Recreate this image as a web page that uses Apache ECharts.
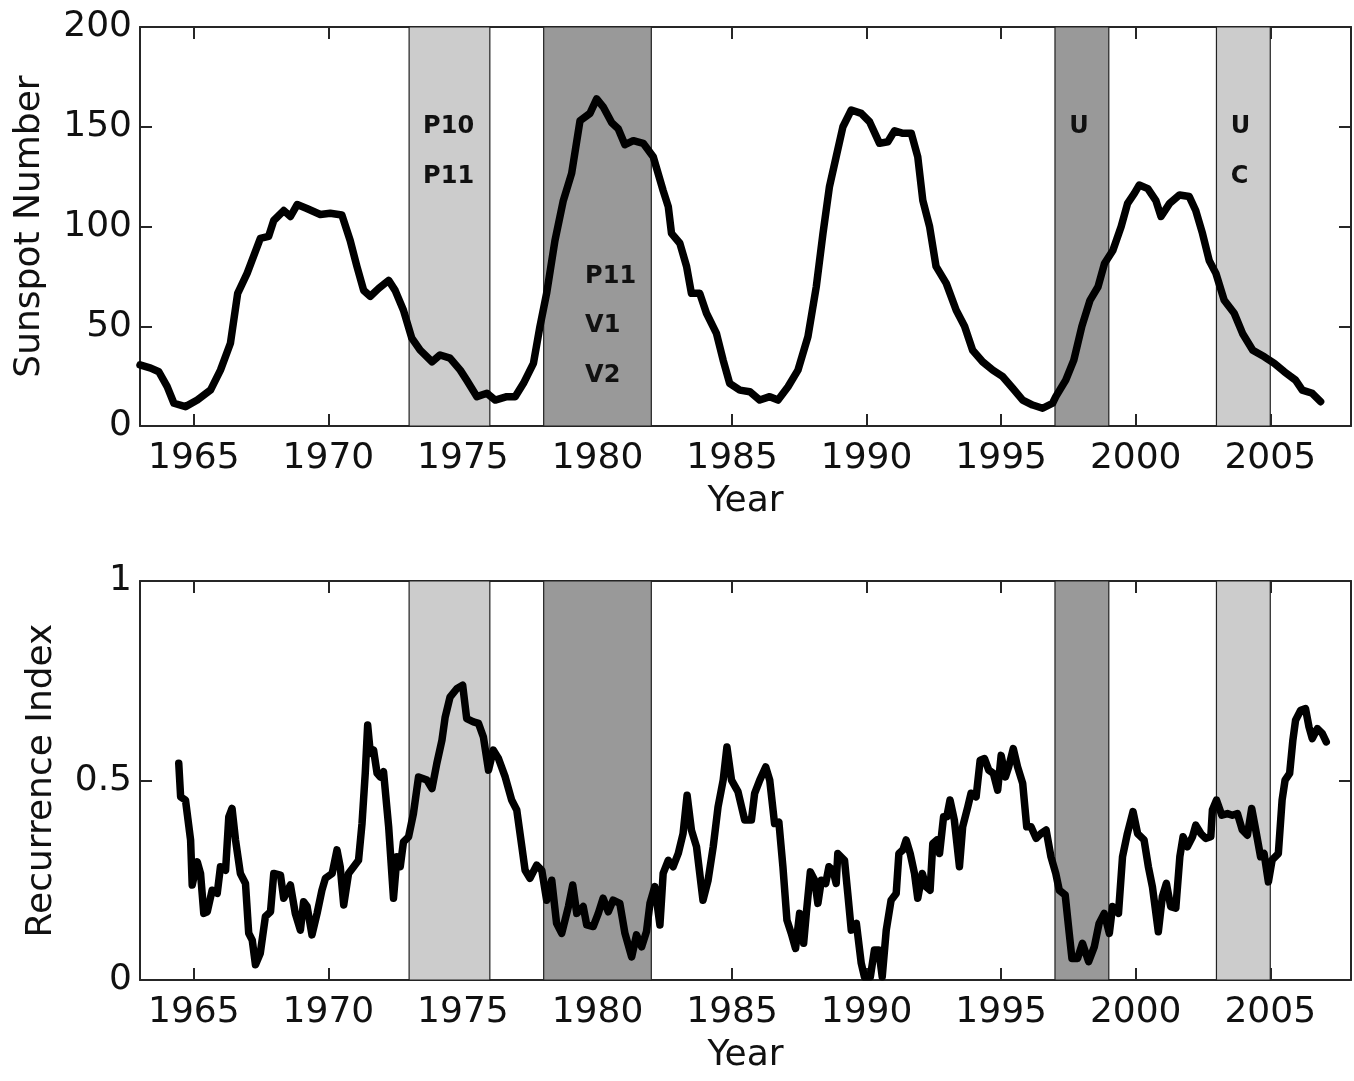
<!DOCTYPE html>
<html>
<head>
<meta charset="utf-8">
<script src="https://cdn.jsdelivr.net/npm/echarts@6/dist/echarts.min.js"></script>
<style>
html,body{margin:0;padding:0;background:#fff;}
#chart{width:1354px;height:1081px;}
</style>
</head>
<body>
<div id="chart"></div>
<script>
// ---------- data ----------
const sunspotYears = [1963.00,1963.40,1963.70,1964.01,1964.26,1964.69,1965.13,1965.62,1965.99,1966.36,1966.63,1966.98,1967.47,1967.78,1967.97,1968.34,1968.59,1968.84,1969.20,1969.70,1970.07,1970.50,1970.81,1971.06,1971.31,1971.56,1971.87,1972.24,1972.48,1972.79,1973.10,1973.41,1973.85,1974.15,1974.52,1974.90,1975.14,1975.52,1975.89,1976.20,1976.63,1976.94,1977.25,1977.62,1977.86,1978.11,1978.42,1978.73,1979.04,1979.35,1979.72,1979.97,1980.21,1980.53,1980.77,1981.02,1981.33,1981.70,1982.07,1982.44,1982.63,1982.75,1983.06,1983.31,1983.49,1983.80,1984.05,1984.42,1984.67,1984.91,1985.29,1985.66,1986.03,1986.40,1986.71,1987.08,1987.45,1987.82,1988.13,1988.38,1988.62,1988.87,1989.12,1989.43,1989.80,1990.11,1990.48,1990.79,1991.04,1991.35,1991.66,1991.90,1992.09,1992.34,1992.58,1992.96,1993.33,1993.64,1993.94,1994.31,1994.69,1995.06,1995.43,1995.80,1996.17,1996.54,1996.91,1997.03,1997.40,1997.70,1998.00,1998.30,1998.60,1998.84,1999.15,1999.46,1999.70,1999.95,2000.13,2000.45,2000.75,2000.94,2001.26,2001.63,2001.99,2002.23,2002.48,2002.73,2002.98,2003.29,2003.66,2003.97,2004.35,2004.78,2005.15,2005.52,2005.94,2006.19,2006.56,2006.87];
const sunspotValues = [30.6,29.0,27.2,19.7,11.4,9.7,13.0,18.0,28.0,41.5,66.5,76.5,94.0,95.0,103.0,108.0,105.0,111.0,109.0,106.0,106.6,105.8,93.0,80.0,68.0,65.0,69.0,73.0,68.0,58.0,44.0,38.0,32.2,35.6,34.0,28.0,23.0,14.7,16.4,13.0,14.7,14.7,21.4,31.4,49.8,66.5,93.0,113.0,126.7,153.0,156.7,164.0,160.0,152.0,149.0,141.0,143.0,141.7,135.0,118.0,110.0,96.6,91.6,80.0,66.5,66.5,56.5,46.4,33.0,21.4,18.0,17.2,13.0,14.7,13.0,19.7,28.0,44.8,69.8,96.6,120.0,135.0,150.0,158.4,156.7,152.5,141.7,142.5,148.0,146.7,146.7,135.0,113.0,100.0,80.0,71.5,58.0,50.0,38.0,32.2,28.0,24.7,18.9,13.0,10.5,8.9,11.4,14.7,23.0,33.0,50.0,63.0,69.8,81.5,88.0,100.0,111.6,116.6,120.8,119.0,113.0,105.0,111.6,115.8,115.0,108.0,96.6,83.0,76.5,63.0,56.5,46.4,38.0,34.7,31.4,27.2,23.0,18.0,16.4,12.2];

const recurrenceYears = [1964.44,1964.51,1964.69,1964.88,1964.94,1965.13,1965.25,1965.37,1965.50,1965.68,1965.87,1965.99,1966.18,1966.30,1966.42,1966.55,1966.73,1966.92,1967.04,1967.17,1967.29,1967.47,1967.66,1967.85,1967.97,1968.22,1968.34,1968.59,1968.77,1968.96,1969.08,1969.21,1969.39,1969.58,1969.76,1969.89,1970.14,1970.32,1970.44,1970.57,1970.75,1970.94,1971.12,1971.25,1971.37,1971.46,1971.56,1971.68,1971.81,1971.93,1972.05,1972.24,1972.42,1972.55,1972.67,1972.79,1972.98,1973.16,1973.35,1973.66,1973.85,1974.03,1974.22,1974.34,1974.52,1974.77,1974.99,1975.14,1975.39,1975.58,1975.76,1975.95,1976.13,1976.32,1976.57,1976.81,1977.00,1977.19,1977.31,1977.49,1977.74,1977.93,1978.11,1978.30,1978.48,1978.67,1978.92,1979.08,1979.23,1979.47,1979.60,1979.84,1980.03,1980.21,1980.40,1980.58,1980.83,1981.02,1981.27,1981.45,1981.64,1981.82,1981.95,1982.13,1982.32,1982.44,1982.63,1982.81,1983.00,1983.18,1983.33,1983.49,1983.68,1983.92,1984.11,1984.30,1984.48,1984.67,1984.81,1984.98,1985.22,1985.47,1985.72,1985.84,1986.03,1986.25,1986.40,1986.58,1986.74,1986.89,1987.04,1987.20,1987.36,1987.51,1987.66,1987.76,1987.91,1988.07,1988.19,1988.32,1988.48,1988.60,1988.75,1988.87,1988.93,1989.18,1989.30,1989.43,1989.62,1989.80,1989.92,1990.14,1990.29,1990.45,1990.58,1990.73,1990.91,1991.10,1991.20,1991.35,1991.47,1991.62,1991.78,1991.90,1992.07,1992.21,1992.36,1992.46,1992.61,1992.71,1992.86,1992.98,1993.10,1993.26,1993.45,1993.57,1993.76,1993.88,1994.07,1994.22,1994.38,1994.54,1994.71,1994.87,1995.00,1995.16,1995.28,1995.45,1995.61,1995.80,1995.95,1996.11,1996.30,1996.48,1996.67,1996.85,1997.03,1997.16,1997.38,1997.53,1997.63,1997.84,1998.02,1998.25,1998.46,1998.64,1998.83,1999.02,1999.14,1999.36,1999.51,1999.69,1999.90,2000.07,2000.31,2000.47,2000.62,2000.84,2000.99,2001.14,2001.30,2001.49,2001.64,2001.76,2001.92,2002.11,2002.23,2002.42,2002.60,2002.79,2002.85,2003.00,2003.20,2003.41,2003.59,2003.78,2003.96,2004.15,2004.31,2004.46,2004.64,2004.77,2004.93,2005.07,2005.30,2005.44,2005.55,2005.72,2005.84,2005.94,2006.13,2006.31,2006.44,2006.56,2006.75,2006.93,2007.08];
const recurrenceValues = [0.543,0.459,0.451,0.351,0.238,0.296,0.267,0.167,0.171,0.225,0.217,0.284,0.275,0.409,0.430,0.351,0.267,0.242,0.117,0.100,0.038,0.067,0.159,0.171,0.267,0.263,0.205,0.238,0.167,0.125,0.196,0.184,0.113,0.167,0.225,0.255,0.267,0.326,0.284,0.188,0.267,0.284,0.300,0.392,0.518,0.639,0.568,0.576,0.518,0.509,0.522,0.384,0.205,0.309,0.284,0.346,0.359,0.417,0.509,0.501,0.480,0.543,0.601,0.659,0.709,0.730,0.739,0.655,0.647,0.643,0.609,0.526,0.576,0.555,0.509,0.451,0.426,0.334,0.275,0.255,0.288,0.275,0.200,0.250,0.142,0.117,0.184,0.238,0.167,0.184,0.138,0.134,0.167,0.205,0.171,0.200,0.192,0.117,0.058,0.113,0.083,0.121,0.192,0.234,0.138,0.267,0.300,0.284,0.317,0.367,0.463,0.376,0.334,0.200,0.250,0.334,0.434,0.501,0.584,0.501,0.472,0.401,0.401,0.468,0.501,0.534,0.501,0.392,0.396,0.284,0.150,0.117,0.079,0.167,0.092,0.167,0.271,0.250,0.192,0.250,0.242,0.284,0.275,0.242,0.317,0.300,0.217,0.125,0.142,0.042,0.008,0.008,0.075,0.075,0.008,0.125,0.200,0.217,0.317,0.326,0.351,0.317,0.267,0.205,0.267,0.234,0.225,0.342,0.351,0.317,0.409,0.409,0.451,0.401,0.284,0.384,0.434,0.468,0.459,0.551,0.555,0.526,0.518,0.476,0.563,0.509,0.534,0.580,0.534,0.493,0.384,0.384,0.355,0.367,0.376,0.309,0.267,0.225,0.213,0.117,0.054,0.054,0.092,0.046,0.083,0.142,0.167,0.117,0.184,0.167,0.309,0.367,0.422,0.367,0.351,0.284,0.234,0.121,0.209,0.242,0.184,0.180,0.309,0.359,0.334,0.359,0.388,0.367,0.355,0.359,0.426,0.451,0.413,0.417,0.413,0.417,0.376,0.363,0.430,0.376,0.309,0.317,0.246,0.301,0.317,0.451,0.501,0.518,0.601,0.651,0.676,0.680,0.634,0.605,0.630,0.618,0.597];

const xTickYears = [1965,1970,1975,1980,1985,1990,1995,2000,2005];
const bandStarts = [1973, 1978, 1997, 2003];
const bandEnds   = [1976, 1982, 1999, 2005];
const bandKinds  = ['light', 'dark', 'dark', 'light'];

const annotationTexts = ['P10','P11','P11','V1','V2','U','U','C'];
const annotationYears = [1973.52,1973.52,1979.54,1979.54,1979.54,1997.53,2003.53,2003.53];
const annotationValues = [150,125,75,50,25,150,150,125];

// ---------- styles ----------
const FONT = 'DejaVu Sans';
const FRAME = '#262626';
const TEXT = '#111111';
const shade = { light: '#cccccc', dark: '#999999' };

const zip = (xs, ys) => xs.map((x, i) => [x, ys[i]]);

function xAxisOpt(g, pos) {
  const isBottom = pos === 'bottom';
  return {
    type: 'value', gridIndex: g, min: 1963, max: 2008, position: pos,
    axisLine: { show: true, onZero: false, lineStyle: { color: FRAME, width: 2 } },
    axisTick: { show: true, inside: true, length: 12, customValues: xTickYears, lineStyle: { color: FRAME, width: 2 } },
    splitLine: { show: false },
    axisLabel: { show: isBottom, customValues: xTickYears, formatter: v => String(Math.round(v)),
                 fontFamily: FONT, fontSize: 36, color: TEXT, margin: 15 },
    name: isBottom ? 'Year' : '', nameLocation: 'middle', nameGap: 58,
    nameTextStyle: { fontFamily: FONT, fontSize: 36, color: TEXT }
  };
}

function yAxisOpt(g, pos, max, iv, name, gap) {
  const isLeft = pos === 'left';
  return {
    type: 'value', gridIndex: g, min: 0, max: max, interval: iv, position: pos,
    axisLine: { show: true, onZero: false, lineStyle: { color: FRAME, width: 2 } },
    axisTick: { show: true, inside: true, length: 12, lineStyle: { color: FRAME, width: 2 } },
    splitLine: { show: false },
    axisLabel: { show: isLeft, fontFamily: FONT, fontSize: 36, color: TEXT, margin: 8, formatter: v => String(v) },
    name: isLeft ? name : '', nameLocation: 'middle', nameGap: gap,
    nameTextStyle: { fontFamily: FONT, fontSize: 36, color: TEXT }
  };
}

function bandSeries(xi, yi) {
  return {
    type: 'line', xAxisIndex: xi, yAxisIndex: yi, data: [], z: 1, silent: true,
    markArea: {
      silent: true,
      data: bandStarts.map((s, i) => [
        { xAxis: s, itemStyle: { color: shade[bandKinds[i]], borderColor: '#222', borderWidth: 1.2, opacity: 1 } },
        { xAxis: bandEnds[i] }
      ])
    }
  };
}

function lineSeries(xi, yi, data) {
  return {
    type: 'line', xAxisIndex: xi, yAxisIndex: yi, z: 3, data: data,
    showSymbol: false, symbol: 'none', smooth: false, clip: true,
    lineStyle: { color: '#000', width: 7.5, cap: 'round', join: 'round' }
  };
}

const option = {
  animation: false,
  backgroundColor: '#fff',
  grid: [
    { left: 140, top: 27, width: 1211, height: 399 },
    { left: 140, top: 581, width: 1211, height: 399 }
  ],
  xAxis: [xAxisOpt(0, 'bottom'), xAxisOpt(0, 'top'), xAxisOpt(1, 'bottom'), xAxisOpt(1, 'top')],
  yAxis: [
    yAxisOpt(0, 'left', 200, 50, 'Sunspot Number', 92),
    yAxisOpt(0, 'right', 200, 50, '', 92),
    yAxisOpt(1, 'left', 1, 0.5, 'Recurrence Index', 80),
    yAxisOpt(1, 'right', 1, 0.5, '', 80)
  ],
  series: [
    bandSeries(0, 0),
    lineSeries(0, 0, zip(sunspotYears, sunspotValues)),
    {
      type: 'scatter', xAxisIndex: 0, yAxisIndex: 0, z: 4, symbolSize: 0, silent: true,
      itemStyle: { opacity: 1 },
      data: annotationTexts.map((t, i) => ({ name: t, value: [annotationYears[i], annotationValues[i]] })),
      label: {
        show: true, formatter: '{b}', position: 'inside', align: 'left', verticalAlign: 'middle',
        fontFamily: FONT, fontWeight: 'bold', fontSize: 24, color: TEXT
      }
    },
    bandSeries(2, 2),
    lineSeries(2, 2, zip(recurrenceYears, recurrenceValues))
  ]
};

const chart = echarts.init(document.getElementById('chart'));
chart.setOption(option);
</script>
</body>
</html>
